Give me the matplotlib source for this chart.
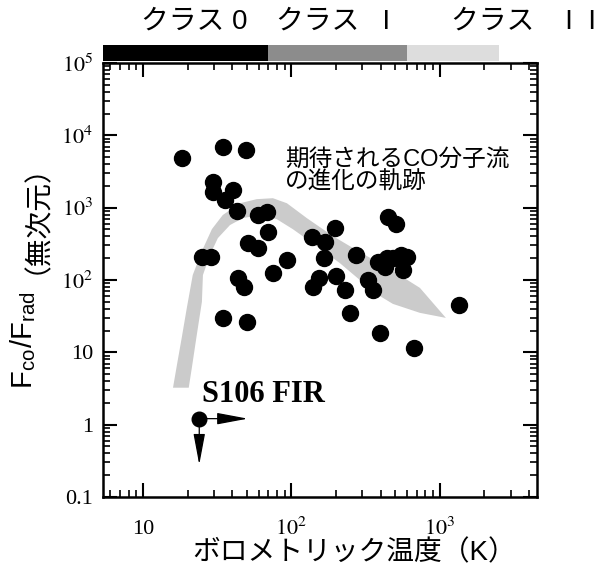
import numpy as np
import matplotlib
matplotlib.use('Agg')
import matplotlib.pyplot as plt
from matplotlib.ticker import LogLocator, NullFormatter

plt.rcParams['font.family'] = ['Liberation Sans', 'Noto Sans CJK JP', 'DejaVu Sans']
plt.rcParams['mathtext.fontset'] = 'stix'

# outflow sources: bolometric temperature (K) and F_co / F_rad
t_bol = [18.2, 34.6, 49.3, 29.6, 29.6, 40.1, 35.6, 43.1, 59.6, 68.0,
         69.0, 51.0, 59.6, 92.7, 24.8, 28.9, 43.7, 47.8, 74.6, 34.3,
         49.8, 449, 506, 137, 196, 168, 165, 272, 384, 438,
         481, 552, 603, 427, 566, 154, 140, 199, 229, 329,
         352, 1352, 248, 394, 668]
f_ratio = [4860, 6900, 6210, 2270, 1650, 1740, 1270, 896, 789, 859,
           455, 320, 274, 189, 210, 210, 105, 81, 124, 29.6,
           26.6, 746, 586, 395, 516, 337, 203, 221, 179, 199,
           203, 221, 210, 153, 137, 105, 81, 113, 72.8, 100,
           72.8, 45.2, 34.7, 18.4, 11.4]

# S106 FIR (lower limit in T, upper limit in F)
s106_t = 23.9
s106_f = 1.21
s106_t_arrow = 50.8
s106_f_arrow = 0.28

# expected evolutionary track (outline of the shaded band)
band_t = [15.9, 16.9, 18.2, 19.7, 21.6, 24.9, 29.1, 34.4, 44.9, 58.4,
          75.0, 93.2, 127, 190, 289, 461, 735, 1100,
          735, 483, 394, 289, 212, 148, 102, 79.6, 61.2, 47.0,
          38.5, 31.9, 28.2, 25.3, 24.9, 23.0, 21.3, 20.3]
band_f = [3.24, 6.7, 15.8, 41, 117, 251, 505, 789, 1150, 1310,
          1350, 1150, 716, 405, 243, 142, 77.7, 29.9,
          35.1, 46.7, 60.1, 100, 171, 294, 505, 693, 789, 716,
          574, 379, 221, 117, 49.8, 17.4, 6.1, 3.24]

# class ranges in T_bol
class_edges = [5.35, 70, 600, 2500]
class_colors = ['#000000', '#8c8c8c', '#dddddd']
class_names = ['クラス 0', 'クラス   I', 'クラス    I  I']
class_label_x = [9.7, 79, 1190]

xlim = (5.35, 4500)
ylim = (0.1, 1e5)

fig = plt.figure(figsize=(6.05, 5.75), dpi=100)
ax = fig.add_axes([0.170, 0.1357, 0.717, 0.7548])

ax.fill(band_t, band_f, color='#cbcbcb', lw=0, zorder=1)
ax.plot(t_bol, f_ratio, 'o', color='black', ms=11.5, zorder=3)

arrow = dict(arrowstyle='-|>,head_length=1.6,head_width=0.3', color='black',
             lw=0.9, shrinkA=0, shrinkB=0, mutation_scale=12)
ax.annotate('', xy=(s106_t_arrow, s106_f), xytext=(s106_t, s106_f), arrowprops=arrow, zorder=2)
ax.annotate('', xy=(s106_t, s106_f_arrow), xytext=(s106_t, s106_f), arrowprops=arrow, zorder=2)
ax.plot([s106_t], [s106_f], 'o', color='black', ms=10.5, zorder=3)
ax.text(24.8, 2.07, 'S106 FIR', fontfamily='Liberation Serif', fontweight='bold',
        fontsize=22, va='baseline', ha='left')

ax.text(90, 6600, '期待されるCO分子流\nの進化の軌跡', fontsize=17, va='top', ha='left',
        linespacing=1.05)

ax.set_xscale('log')
ax.set_yscale('log')
ax.set_xlim(xlim)
ax.set_ylim(ylim)

ax.set_xticks([10, 100, 1000], labels=['10', r'$10^{2}$', r'$10^{3}$'])
ax.set_yticks([0.1, 1, 10, 100, 1e3, 1e4, 1e5],
              labels=['0.1', '1', '10', r'$10^{2}$', r'$10^{3}$', r'$10^{4}$', r'$10^{5}$'])
ax.xaxis.set_minor_locator(LogLocator(subs=np.arange(2, 10), numticks=100))
ax.yaxis.set_minor_locator(LogLocator(subs=np.arange(2, 10), numticks=100))
ax.xaxis.set_minor_formatter(NullFormatter())
ax.yaxis.set_minor_formatter(NullFormatter())
ax.tick_params(which='both', direction='in', top=True, right=True)
ax.tick_params(which='major', length=10, width=1.5, labelsize=16)
ax.tick_params(which='minor', length=5, width=1.2)
ax.tick_params(axis='x', which='major', pad=27)
ax.tick_params(axis='y', which='major', pad=7)
for t in ax.get_xticklabels() + ax.get_yticklabels():
    t.set_fontfamily('Liberation Serif')
for t in ax.get_xticklabels():
    t.set_verticalalignment('baseline')
for s in ax.spines.values():
    s.set_linewidth(1.8)

# class bar above the plot
bx = fig.add_axes([0.170, 0.8939, 0.717, 0.0278])
bx.set_xscale('log')
bx.set_xlim(xlim)
bx.set_ylim(-0.5, 0.5)
bx.barh(0, np.diff(class_edges), left=class_edges[:-1], height=1, color=class_colors)
for name, x in zip(class_names, class_label_x):
    bx.text(x, 1.97, name, fontsize=20, ha='left', va='center', clip_on=False)
bx.axis('off')

fig.text(354 / 605, 1 - 553 / 575, 'ボロメトリック温度（K）', fontsize=20, ha='center', va='center')
fig.text(23 / 605, 1 - 340 / 575, r'F$_{\mathregular{co}}$/F$_{\mathregular{rad}}$', fontsize=21,
         rotation=90, ha='center', va='center')
fig.text(23 / 605, 1 - 205 / 575, '（無次元）', fontsize=20, rotation=90, ha='center', va='center')

fig.savefig('out.png', dpi=100)
